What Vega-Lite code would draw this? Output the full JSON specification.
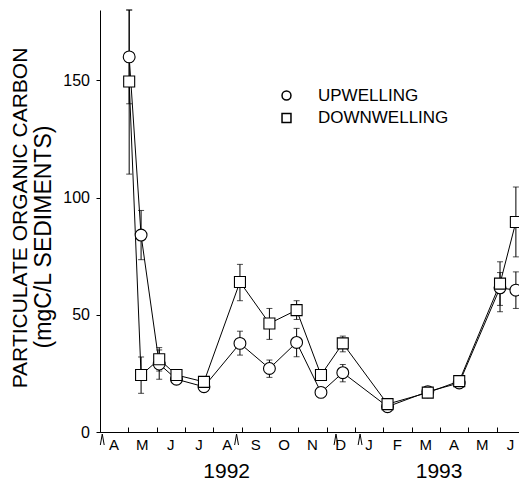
{
  "$schema": "https://vega.github.io/schema/vega-lite/v6.json",
  "width": 419,
  "height": 422,
  "autosize": {"type": "none"},
  "padding": {"left": 100, "top": 10, "right": 0, "bottom": 51},
  "background": "white",
  "config": {
    "view": {"stroke": null},
    "font": "Liberation Sans",
    "axis": {"domainColor": "black", "tickColor": "black", "labelColor": "black", "titleColor": "black", "grid": false, "labelFont": "Liberation Sans", "titleFont": "Liberation Sans", "titleFontWeight": "normal", "domainWidth": 1, "tickWidth": 1},
    "legend": {"labelFont": "Liberation Sans", "labelColor": "black"}
  },
  "datasets": {
    "poc": [
      {"series": "UPWELLING", "t": 1.03, "v": 160, "lo": 140, "hi": 180},
      {"series": "UPWELLING", "t": 1.45, "v": 84, "lo": 73.5, "hi": 94.5},
      {"series": "UPWELLING", "t": 2.09, "v": 29, "lo": 22.5, "hi": 35},
      {"series": "UPWELLING", "t": 2.7, "v": 22.5, "lo": null, "hi": null},
      {"series": "UPWELLING", "t": 3.67, "v": 19.3, "lo": null, "hi": null},
      {"series": "UPWELLING", "t": 4.94, "v": 37.8, "lo": 32.8, "hi": 43},
      {"series": "UPWELLING", "t": 5.98, "v": 27.1, "lo": 23.3, "hi": 30.7},
      {"series": "UPWELLING", "t": 6.94, "v": 38.2, "lo": 32.1, "hi": 44.2},
      {"series": "UPWELLING", "t": 7.8, "v": 16.9, "lo": null, "hi": null},
      {"series": "UPWELLING", "t": 8.57, "v": 25.3, "lo": 21.4, "hi": 28.8},
      {"series": "UPWELLING", "t": 10.15, "v": 10.8, "lo": null, "hi": null},
      {"series": "UPWELLING", "t": 11.57, "v": 17.2, "lo": null, "hi": null},
      {"series": "UPWELLING", "t": 12.68, "v": 20.9, "lo": null, "hi": null},
      {"series": "UPWELLING", "t": 14.12, "v": 61.5, "lo": 51.3, "hi": 68},
      {"series": "UPWELLING", "t": 14.68, "v": 60.5, "lo": 52.7, "hi": 68.3},
      {"series": "DOWNWELLING", "t": 1.03, "v": 149.5, "lo": 110, "hi": 180},
      {"series": "DOWNWELLING", "t": 1.45, "v": 24.3, "lo": 16.5, "hi": 32},
      {"series": "DOWNWELLING", "t": 2.09, "v": 31, "lo": 26, "hi": 36},
      {"series": "DOWNWELLING", "t": 2.7, "v": 24.3, "lo": null, "hi": null},
      {"series": "DOWNWELLING", "t": 3.67, "v": 21.4, "lo": null, "hi": null},
      {"series": "DOWNWELLING", "t": 4.94, "v": 64, "lo": 56, "hi": 71.5},
      {"series": "DOWNWELLING", "t": 5.98, "v": 46.3, "lo": 39.5, "hi": 52.7},
      {"series": "DOWNWELLING", "t": 6.94, "v": 52, "lo": 48, "hi": 56},
      {"series": "DOWNWELLING", "t": 7.8, "v": 24.3, "lo": null, "hi": null},
      {"series": "DOWNWELLING", "t": 8.57, "v": 37.8, "lo": 34.2, "hi": 40.9},
      {"series": "DOWNWELLING", "t": 10.15, "v": 11.9, "lo": null, "hi": null},
      {"series": "DOWNWELLING", "t": 11.57, "v": 16.8, "lo": null, "hi": null},
      {"series": "DOWNWELLING", "t": 12.68, "v": 21.7, "lo": null, "hi": null},
      {"series": "DOWNWELLING", "t": 14.12, "v": 63.3, "lo": 54, "hi": 72.6},
      {"series": "DOWNWELLING", "t": 14.68, "v": 89.6, "lo": 74.7, "hi": 104.5}
    ],
    "carets": [
      {"t": 0.08}, {"t": 4.82}, {"t": 8.33}, {"t": 9.18}
    ],
    "years": [
      {"t": 4.47, "label": "1992"},
      {"t": 11.97, "label": "1993"}
    ]
  },
  "encoding": {
    "x": {
      "field": "t",
      "type": "quantitative",
      "scale": {"domain": [0, 14.79], "nice": false, "zero": false},
      "axis": {
        "values": [0, 1, 2, 3, 4, 5, 6, 7, 8, 9, 10, 11, 12, 13, 14],
        "labelExpr": "substring('AMJJASONDJFMAMJ', datum.value, datum.value + 1)",
        "labelOffset": 13.5,
        "tickSize": -5,
        "labelPadding": 10,
        "labelFontSize": 15,
        "labelFlush": false,
        "labelOverlap": false,
        "labelBound": false,
        "title": null
      }
    }
  },
  "layer": [
    {
      "data": {"name": "poc"},
      "mark": {"type": "line", "color": "black", "strokeWidth": 1},
      "encoding": {
        "y": {
          "field": "v",
          "type": "quantitative",
          "scale": {"domain": [0, 180], "nice": false, "zero": false},
          "axis": {
            "orient": "left",
            "values": [0, 50, 100, 150],
            "tickSize": 4,
            "labelPadding": 6.5,
            "labelFontSize": 16,
            "title": "(mgC/L SEDIMENTS)",
            "titleFontSize": 23,
            "titleX": -57,
            "titleY": 226.5,
            "titleAngle": 270,
            "titleAlign": "center",
            "titleBaseline": "middle"
          }
        },
        "detail": {"field": "series"}
      }
    },
    {
      "data": {"name": "poc"},
      "transform": [{"filter": "datum.lo != null"}],
      "mark": {"type": "rule", "color": "black", "strokeWidth": 1},
      "encoding": {
        "y": {
          "field": "lo",
          "type": "quantitative",
          "axis": {
            "orient": "left",
            "labels": false,
            "ticks": false,
            "domain": false,
            "title": "PARTICULATE ORGANIC CARBON",
            "titleFontSize": 21,
            "titleX": -80,
            "titleY": 207.5,
            "titleAngle": 270,
            "titleAlign": "center",
            "titleBaseline": "middle"
          }
        },
        "y2": {"field": "hi"}
      }
    },
    {
      "data": {"name": "poc"},
      "transform": [{"filter": "datum.lo != null"}],
      "mark": {"type": "tick", "orient": "horizontal", "color": "black", "size": 6, "thickness": 1},
      "encoding": {
        "y": {"field": "lo", "type": "quantitative", "axis": null}
      }
    },
    {
      "data": {"name": "poc"},
      "transform": [{"filter": "datum.hi != null"}],
      "mark": {"type": "tick", "orient": "horizontal", "color": "black", "size": 6, "thickness": 1},
      "encoding": {
        "y": {"field": "hi", "type": "quantitative", "axis": null}
      }
    },
    {
      "data": {"name": "poc"},
      "transform": [{"filter": "datum.series == 'UPWELLING'"}],
      "mark": {"type": "point", "filled": true, "fill": "white", "stroke": "black", "strokeWidth": 1.1, "size": 140, "opacity": 1},
      "encoding": {
        "y": {"field": "v", "type": "quantitative", "axis": null},
        "shape": {
          "field": "series",
          "type": "nominal",
          "scale": {"domain": ["UPWELLING", "DOWNWELLING"], "range": ["circle", "square"]},
          "legend": {
            "orient": "none",
            "legendX": 178,
            "legendY": 77,
            "title": null,
            "padding": 0,
            "symbolSize": 80,
            "labelFontSize": 17,
            "labelOffset": 23,
            "rowPadding": 4.5,
            "encode": {
              "symbols": {
                "update": {
                  "fill": {"value": "white"},
                  "stroke": {"value": "black"},
                  "strokeWidth": {"value": 1},
                  "opacity": {"value": 1}
                }
              }
            }
          }
        }
      }
    },
    {
      "data": {"name": "poc"},
      "transform": [{"filter": "datum.series == 'DOWNWELLING'"}],
      "mark": {"type": "point", "filled": true, "fill": "white", "stroke": "black", "strokeWidth": 1.1, "size": 121, "opacity": 1},
      "encoding": {
        "y": {"field": "v", "type": "quantitative", "axis": null},
        "shape": {"field": "series", "type": "nominal"}
      }
    },
    {
      "data": {"name": "carets"},
      "mark": {"type": "point", "shape": "M-0.35,1L0,-1L0.35,1", "filled": false, "stroke": "black", "strokeWidth": 1, "size": 121, "yOffset": 7.5, "opacity": 1},
      "encoding": {
        "y": {"datum": 0, "type": "quantitative", "axis": null}
      }
    },
    {
      "data": {"name": "years"},
      "mark": {"type": "text", "fontSize": 21, "dy": 40, "baseline": "middle", "align": "center", "color": "black", "font": "Liberation Sans"},
      "encoding": {
        "y": {"datum": 0, "type": "quantitative", "axis": null},
        "text": {"field": "label"}
      }
    }
  ],
  "resolve": {"axis": {"y": "independent"}}
}
